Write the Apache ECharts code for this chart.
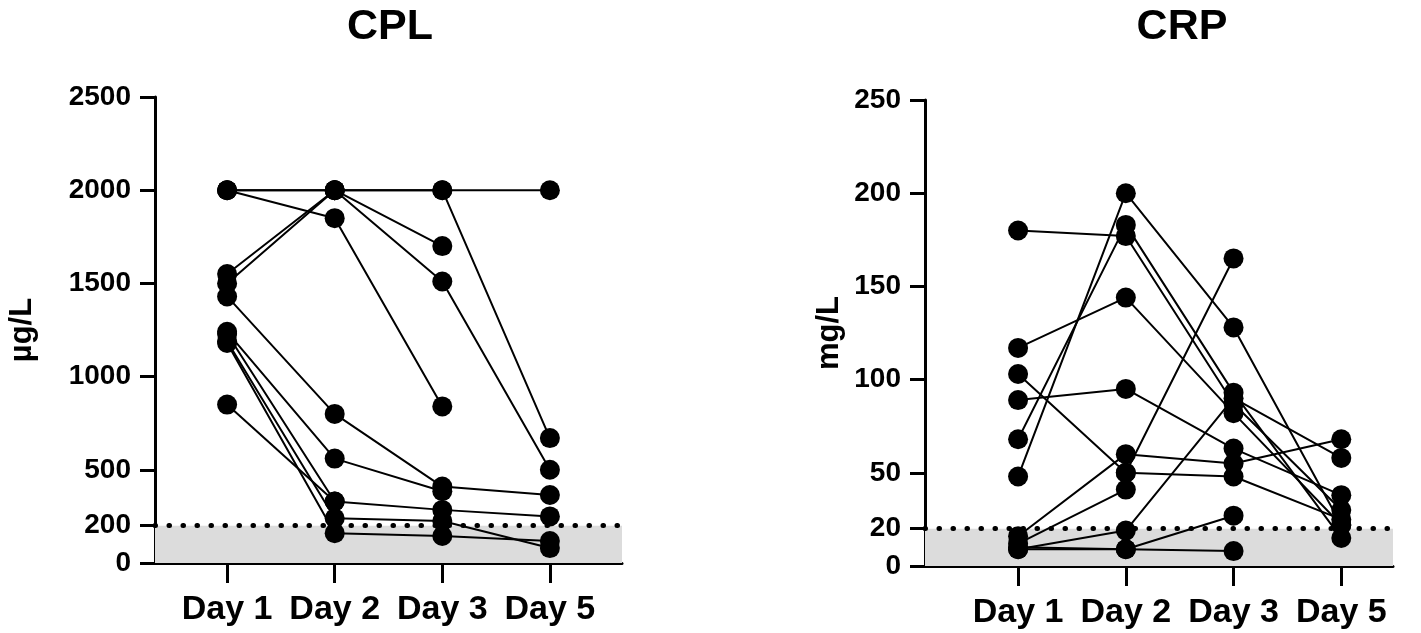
<!doctype html>
<html>
<head>
<meta charset="utf-8">
<title>CPL / CRP</title>
<style>
	html,body{height:100%;padding:0;margin:0;background:#fff;}
</style>
</head>
<body>
<div style="width:1421px;height:633px;" id="chart"></div>
<script src="https://cdn.jsdelivr.net/npm/echarts@6/dist/echarts.min.js"></script>
<script>
// categories and tick labels
var days = ['Day 1', 'Day 2', 'Day 3', 'Day 5'];
var cplTicks = [0, 200, 500, 1000, 1500, 2000, 2500];
var crpTicks = [0, 20, 50, 100, 150, 200, 250];
var cplLimit = 200;
var crpLimit = 20;

// one row per patient, values at Day 1, 2, 3, 5 (null = not measured)
var cplSubjects = [
	[2000, 2000, 2000, 2000],
	[2000, 1850, 840, null],
	[1550, 2000, 2000, 670],
	[1500, 2000, 1510, 500],
	[2000, 2000, 1700, null],
	[1430, 800, 410, 365],
	[1240, 560, 385, null],
	[1230, 330, 285, 250],
	[1190, 240, 225, 80],
	[1180, 160, 145, 118],
	[850, 330, null, null]
];
var crpSubjects = [
	[180, 177, 87, 30],
	[117, 144, 82, 22],
	[68, 183, 93, 15],
	[48, 200, 128, 22],
	[103, 50, 165, null],
	[89, 95, 63, 38],
	[16, 60, 55, 68],
	[12, 41, null, null],
	[9, 19, 90, 58],
	[9, 9, 8, null],
	[null, 50, 48, 25],
	[10, 9, 27, null]
];

var font = 'Liberation Sans';
var dayIdx = days.map(function(d, i){ return i; });

function xAxisFor(grid, min, max){
	return {
		type: 'value', gridIndex: grid, min: min, max: max,
		splitLine: {show: false},
		axisLine: {onZero: false, lineStyle: {color: '#000', width: 3}},
		axisTick: {customValues: dayIdx, length: 20, lineStyle: {color: '#000', width: 3}},
		axisLabel: {customValues: dayIdx, margin: 30, color: '#000', fontFamily: font, fontWeight: 'bold', fontSize: 34,
			formatter: function(v){ return days[Math.round(v)]; }}
	};
}
function yAxisFor(grid, ticks, name, gap){
	return {
		type: 'value', gridIndex: grid, min: ticks[0], max: ticks[ticks.length - 1],
		name: name, nameLocation: 'middle', nameRotate: 90, nameGap: gap,
		nameTextStyle: {color: '#000', fontFamily: font, fontWeight: 'bold', fontSize: 31},
		splitLine: {show: false},
		axisLine: {show: true, onZero: false, lineStyle: {color: '#000', width: 3}},
		axisTick: {show: true, customValues: ticks, length: 15, lineStyle: {color: '#000', width: 3}},
		axisLabel: {customValues: ticks, margin: 24, color: '#000', fontFamily: font, fontWeight: 'bold', fontSize: 28,
			formatter: function(v){ return String(v); }}
	};
}
function limitSeries(grid, limit){
	return {
		type: 'line', xAxisIndex: grid, yAxisIndex: grid, data: [], z: 0, silent: true,
		markArea: {silent: true, itemStyle: {color: '#dcdcdc'}, data: [[{yAxis: 0}, {yAxis: limit}]]},
		markLine: {silent: true, symbol: 'none', label: {show: false},
			lineStyle: {color: '#000', width: 5, type: [0.5, 13.5], cap: 'round'}, data: [{yAxis: limit}]}
	};
}
function subjectSeries(grid, rows){
	return rows.map(function(r){
		return {
			type: 'line', xAxisIndex: grid, yAxisIndex: grid, z: 3,
			symbol: 'circle', symbolSize: 20, showSymbol: true,
			itemStyle: {color: '#000'}, lineStyle: {color: '#000', width: 2},
			data: r.map(function(v, i){ return [i, v == null ? '-' : v]; })
		};
	});
}

var myChart = echarts.init(document.getElementById('chart'));
var option = {
	animation: false,
	title: [
		{text: 'CPL', left: 385, top: 1, textAlign: 'center',
			textStyle: {color: '#000', fontFamily: font, fontWeight: 'bold', fontSize: 43}},
		{text: 'CRP', left: 1177, top: 1, textAlign: 'center',
			textStyle: {color: '#000', fontFamily: font, fontWeight: 'bold', fontSize: 43}}
	],
	grid: [
		{left: 155, top: 97, width: 467, height: 466},
		{left: 925, top: 100, width: 468, height: 466}
	],
	xAxis: [xAxisFor(0, -0.67, 3.67), xAxisFor(1, -0.864, 3.48)],
	yAxis: [yAxisFor(0, cplTicks, 'µg/L', 117), yAxisFor(1, crpTicks, 'mg/L', 80)],
	series: [limitSeries(0, cplLimit), limitSeries(1, crpLimit)]
		.concat(subjectSeries(0, cplSubjects))
		.concat(subjectSeries(1, crpSubjects))
};
myChart.setOption(option);
</script>
</body>
</html>
